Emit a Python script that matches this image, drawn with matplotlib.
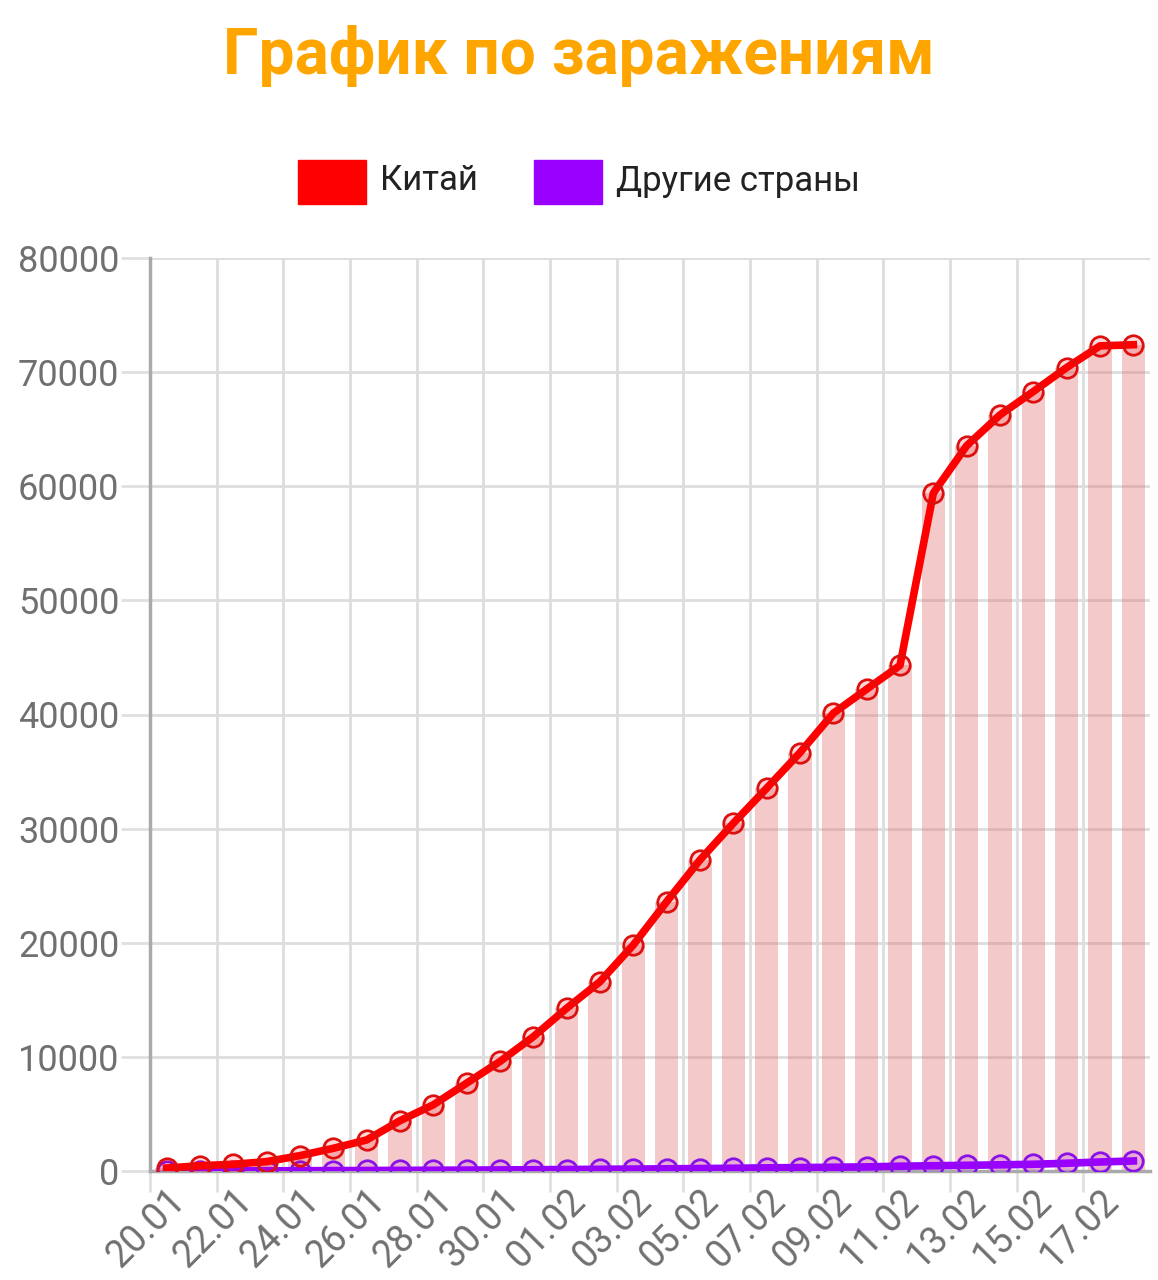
import matplotlib
matplotlib.use("Agg")
import matplotlib.pyplot as plt
import numpy as np

# daily cumulative infections, 20.01 - 18.02
dates = ["20.01", "21.01", "22.01", "23.01", "24.01", "25.01", "26.01", "27.01",
         "28.01", "29.01", "30.01", "31.01", "01.02", "02.02", "03.02", "04.02",
         "05.02", "06.02", "07.02", "08.02", "09.02", "10.02", "11.02", "12.02",
         "13.02", "14.02", "15.02", "16.02", "17.02", "18.02"]
china = [260, 460, 590, 820, 1350, 1990, 2720, 4410, 5800, 7700, 9600, 11770,
         14260, 16590, 19810, 23600, 27260, 30470, 33540, 36660, 40110, 42220,
         44300, 59400, 63550, 66250, 68300, 70400, 72300, 72400]
others = [5, 8, 10, 15, 25, 35, 45, 55, 65, 80, 95, 110, 130, 150, 170, 190,
          215, 240, 275, 300, 330, 360, 420, 460, 500, 540, 590, 680, 790, 880]

plt.rcParams['font.family'] = ['Roboto', 'DejaVu Sans']

fig = plt.figure(figsize=(11.58, 12.8), dpi=100)
ax = fig.add_axes([150 / 1158, 109 / 1280, 1000 / 1158, 913 / 1280])

x = np.arange(len(dates))

# pink bars under the China line
ax.bar(x, china, width=0.7, color='#e06666', alpha=0.35, zorder=2, linewidth=0)

ax.plot(x, china, color='#ff0000', lw=5.5, zorder=4, marker='o', ms=14,
        mfc=(1, 0, 0, 0.15), mec='#dd1010', mew=2)
ax.plot(x, others, color='#9900ff', lw=5.5, zorder=3, marker='o', ms=14,
        mfc=(0.6, 0, 1, 0.15), mec='#8a10e8', mew=2)

ax.set_xlim(-0.5, len(dates) - 0.5)
ax.set_ylim(0, 80000)

ax.set_yticks(np.arange(0, 80001, 10000))
ax.set_xticks(x[::2])
ax.set_xticklabels(dates[::2], rotation=45, ha='right', va='top',
                   rotation_mode='anchor', fontsize=27, color='#707070')
ax.set_xticks(np.arange(-0.5, len(dates) - 1, 2), minor=True)
ax.tick_params(axis='x', which='major', length=0, pad=8)
ax.tick_params(axis='x', which='minor', length=15, width=2, color='#e0e0e0')
ax.tick_params(axis='y', length=21, width=2, color='#e0e0e0', labelsize=26,
               labelcolor='#707070', pad=1)

ax.grid(axis='y', color='#dddddd', lw=2, zorder=1)
ax.grid(axis='x', which='minor', color='#dddddd', lw=2, zorder=1)
ax.set_axisbelow(True)

for s in ['top', 'right']:
    ax.spines[s].set_visible(False)
for s in ['left', 'bottom']:
    ax.spines[s].set_color('#aaaaaa')
    ax.spines[s].set_linewidth(2.5)

fig.text(0.5, 1 - 56 / 1280, "График по заражениям", ha='center', va='center',
         fontsize=46, fontweight='bold', color='#ffa500')

# legend boxes
fig.patches.append(plt.Rectangle((298 / 1158, 1 - 204 / 1280), 68 / 1158, 44 / 1280,
                                 transform=fig.transFigure, color='#ff0000'))
fig.patches.append(plt.Rectangle((534 / 1158, 1 - 204 / 1280), 68 / 1158, 44 / 1280,
                                 transform=fig.transFigure, color='#9900ff'))
fig.text(380 / 1158, 1 - 181 / 1280, "Китай", ha='left', va='center',
         fontsize=25, color='#222222')
fig.text(616 / 1158, 1 - 181 / 1280, "Другие страны", ha='left', va='center',
         fontsize=25, color='#222222')

fig.savefig("out.png", dpi=100)
